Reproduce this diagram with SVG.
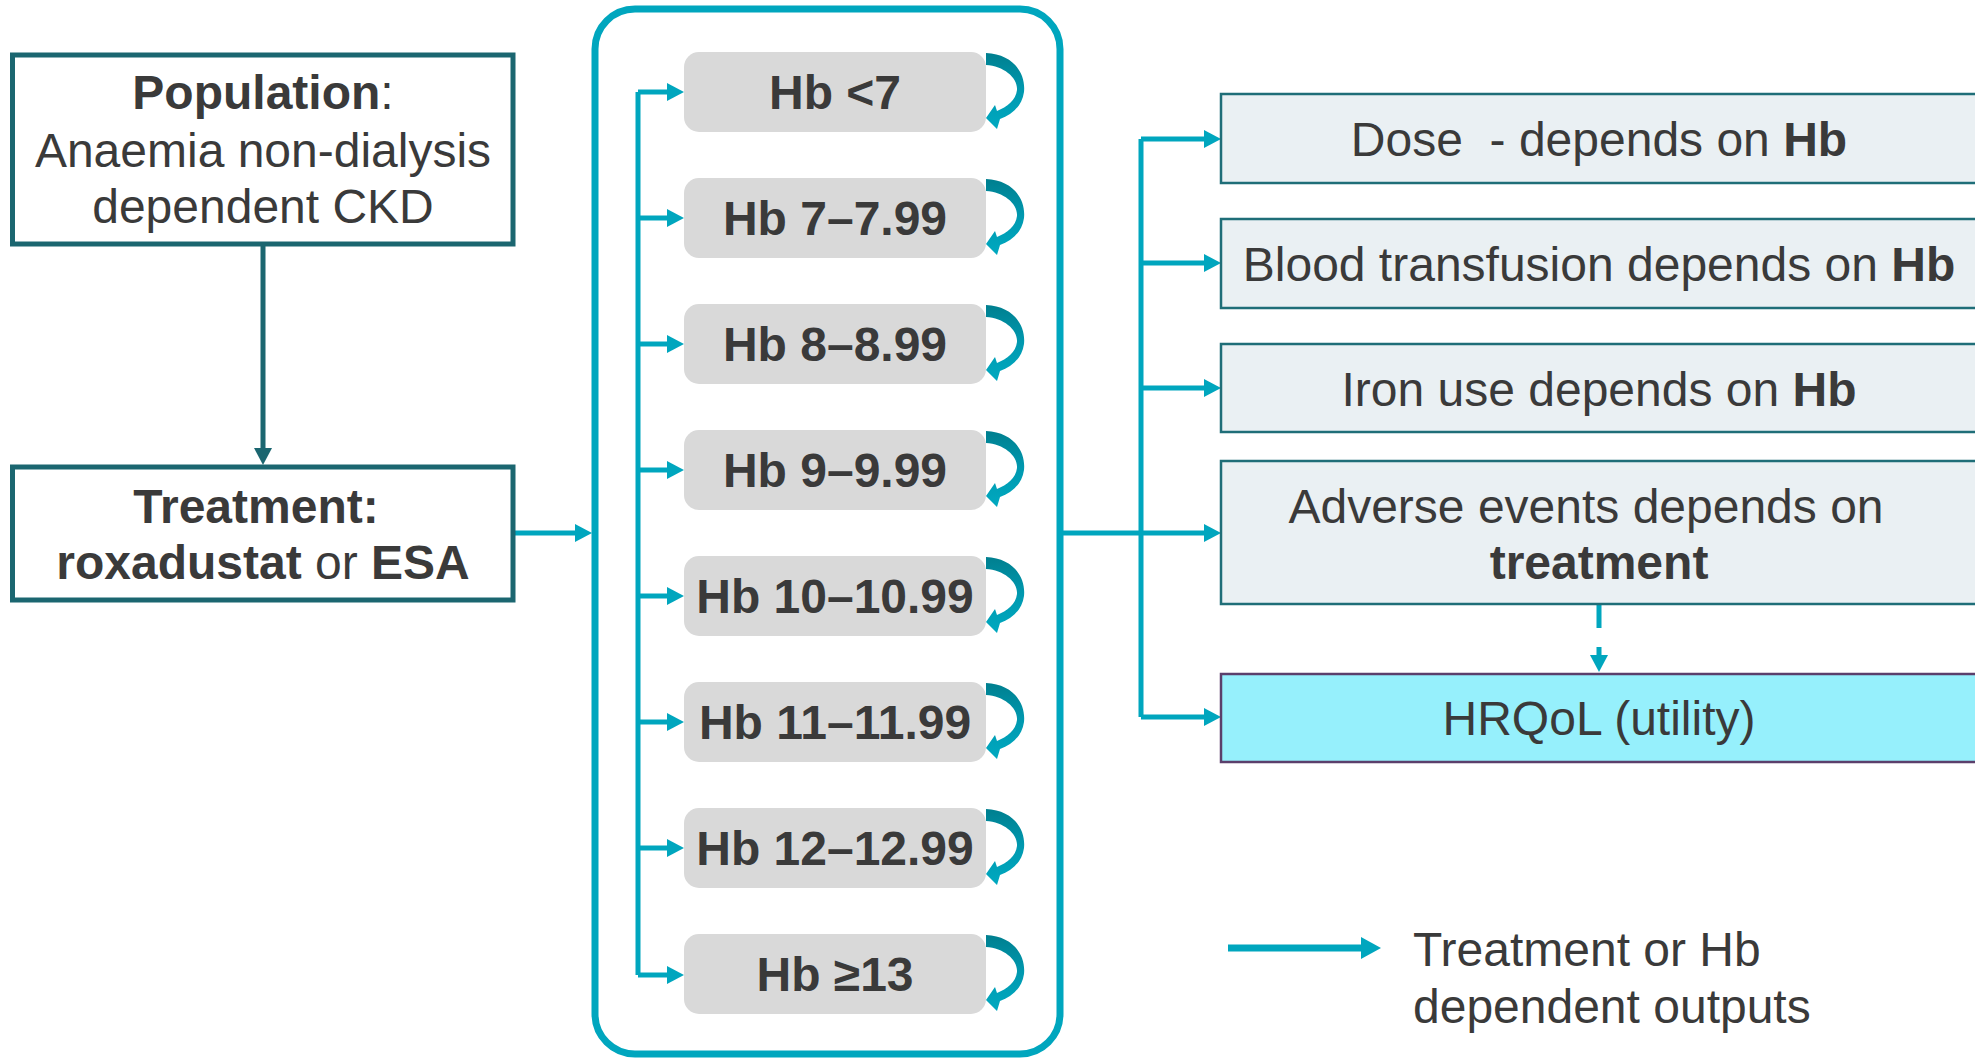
<svg xmlns="http://www.w3.org/2000/svg" width="1975" height="1058" viewBox="0 0 1975 1058">
  <style>
    text { font-family: "Liberation Sans", Arial, sans-serif; font-size: 48px; fill: #3a3a3a; }
    .b { font-weight: bold; }
    .lbox { fill: #ffffff; stroke: #1b6670; stroke-width: 5; }
    .hb { fill: #d9d9d9; }
    .out { fill: #eaf0f3; stroke: #1f6e78; stroke-width: 2.5; }
    .hrq { fill: #96f0fc; stroke: #5b3f6b; stroke-width: 2.5; }
    .tl { fill: none; stroke: #00a6be; stroke-width: 5; stroke-linejoin: round; }
    .dk { fill: none; stroke: #1b6670; stroke-width: 5; }
  </style>
  <defs>
    <marker id="aT" markerUnits="userSpaceOnUse" markerWidth="17" markerHeight="18" viewBox="0 0 17 18" refX="1" refY="9" orient="auto">
      <path d="M0,0 L17,9 L0,18 Z" fill="#00a6be"/>
    </marker>
    <marker id="aD" markerUnits="userSpaceOnUse" markerWidth="17" markerHeight="18" viewBox="0 0 17 18" refX="1" refY="9" orient="auto">
      <path d="M0,0 L17,9 L0,18 Z" fill="#1b6670"/>
    </marker>
    <marker id="aL" markerUnits="userSpaceOnUse" markerWidth="20" markerHeight="22" viewBox="0 0 20 22" refX="1" refY="11" orient="auto">
      <path d="M0,0 L20,11 L0,22 Z" fill="#00a6be"/>
    </marker>
    <linearGradient id="lg" x1="0" y1="0" x2="0" y2="1">
      <stop offset="0" stop-color="#007f8f"/>
      <stop offset="0.5" stop-color="#0099b0"/>
      <stop offset="1" stop-color="#00a9c0"/>
    </linearGradient>
    <path id="loop" fill="url(#lg)" d="M986 53 C1012 54, 1026 72, 1024 92 C1022 106, 1012 115, 1000 119 L997 129 L986 118 L995 105 L997 111 C1007 107, 1016 100, 1017 90 C1018 78, 1004 66, 986 65 Z"/>
  </defs>
  <rect width="1975" height="1058" fill="#ffffff"/>

  <g id="connectors">
    <path class="dk" d="M263 244 V449" marker-end="url(#aD)"/>
    <path class="tl" d="M513 533 H576" marker-end="url(#aT)"/>
    <path class="tl" d="M638 92 V975"/>
    <path class="tl" d="M638 92 H668" marker-end="url(#aT)"/>
    <path class="tl" d="M638 218 H668" marker-end="url(#aT)"/>
    <path class="tl" d="M638 344 H668" marker-end="url(#aT)"/>
    <path class="tl" d="M638 470 H668" marker-end="url(#aT)"/>
    <path class="tl" d="M638 596 H668" marker-end="url(#aT)"/>
    <path class="tl" d="M638 722 H668" marker-end="url(#aT)"/>
    <path class="tl" d="M638 848 H668" marker-end="url(#aT)"/>
    <path class="tl" d="M638 975 H668" marker-end="url(#aT)"/>
    <use href="#loop"/>
    <use href="#loop" transform="translate(0,126)"/>
    <use href="#loop" transform="translate(0,252)"/>
    <use href="#loop" transform="translate(0,378)"/>
    <use href="#loop" transform="translate(0,504)"/>
    <use href="#loop" transform="translate(0,630)"/>
    <use href="#loop" transform="translate(0,756)"/>
    <use href="#loop" transform="translate(0,882)"/>
    <path class="tl" d="M1141 139 V717"/>
    <path class="tl" d="M1141 139 H1205" marker-end="url(#aT)"/>
    <path class="tl" d="M1141 263 H1205" marker-end="url(#aT)"/>
    <path class="tl" d="M1141 388 H1205" marker-end="url(#aT)"/>
    <path class="tl" d="M1062 533 H1205" marker-end="url(#aT)"/>
    <path class="tl" d="M1141 717 H1205" marker-end="url(#aT)"/>
    <path class="tl" d="M1599 605 V656" stroke-dasharray="23 19" marker-end="url(#aT)"/>
  </g>

  <g id="population">
    <rect class="lbox" x="12.5" y="55" width="500.5" height="189"/>
    <text x="263" y="109" text-anchor="middle"><tspan class="b">Population</tspan>:</text>
    <text x="263" y="167" text-anchor="middle">Anaemia non-dialysis</text>
    <text x="263" y="223" text-anchor="middle">dependent CKD</text>
  </g>
  <g id="treatment">
    <rect class="lbox" x="12.5" y="467" width="500.5" height="133"/>
    <text x="256" y="523" text-anchor="middle" class="b">Treatment:</text>
    <text x="263" y="579" text-anchor="middle"><tspan class="b">roxadustat</tspan> or <tspan class="b">ESA</tspan></text>
  </g>

  <g id="hb-states">
    <rect x="595" y="9" width="465" height="1045" rx="40" fill="none" stroke="#00a6be" stroke-width="7"/>
  </g>
  <g id="hb1"><rect class="hb" x="684" y="52" width="302" height="80" rx="15"/><text class="b" x="835" y="109" text-anchor="middle">Hb &lt;7</text></g>
  <g id="hb2"><rect class="hb" x="684" y="178" width="302" height="80" rx="15"/><text class="b" x="835" y="235" text-anchor="middle">Hb 7–7.99</text></g>
  <g id="hb3"><rect class="hb" x="684" y="304" width="302" height="80" rx="15"/><text class="b" x="835" y="361" text-anchor="middle">Hb 8–8.99</text></g>
  <g id="hb4"><rect class="hb" x="684" y="430" width="302" height="80" rx="15"/><text class="b" x="835" y="487" text-anchor="middle">Hb 9–9.99</text></g>
  <g id="hb5"><rect class="hb" x="684" y="556" width="302" height="80" rx="15"/><text class="b" x="835" y="613" text-anchor="middle">Hb 10–10.99</text></g>
  <g id="hb6"><rect class="hb" x="684" y="682" width="302" height="80" rx="15"/><text class="b" x="835" y="739" text-anchor="middle">Hb 11–11.99</text></g>
  <g id="hb7"><rect class="hb" x="684" y="808" width="302" height="80" rx="15"/><text class="b" x="835" y="865" text-anchor="middle">Hb 12–12.99</text></g>
  <g id="hb8"><rect class="hb" x="684" y="934" width="302" height="80" rx="15"/><text class="b" x="835" y="991" text-anchor="middle">Hb ≥13</text></g>

  <g id="dose">
    <rect class="out" x="1221" y="94" width="770" height="89"/>
    <text x="1599" y="156" text-anchor="middle" xml:space="preserve">Dose  - depends on <tspan class="b">Hb</tspan></text>
  </g>
  <g id="transfusion">
    <rect class="out" x="1221" y="219" width="770" height="89"/>
    <text x="1599" y="281" text-anchor="middle">Blood transfusion depends on <tspan class="b">Hb</tspan></text>
  </g>
  <g id="iron">
    <rect class="out" x="1221" y="344" width="770" height="88"/>
    <text x="1599" y="406" text-anchor="middle">Iron use depends on <tspan class="b">Hb</tspan></text>
  </g>
  <g id="adverse">
    <rect class="out" x="1221" y="461" width="770" height="143"/>
    <text x="1586" y="523" text-anchor="middle">Adverse events depends on</text>
    <text x="1599" y="579" text-anchor="middle" class="b">treatment</text>
  </g>
  <g id="hrqol">
    <rect class="hrq" x="1221" y="674" width="770" height="88"/>
    <text x="1599" y="735" text-anchor="middle">HRQoL (utility)</text>
  </g>

  <g id="legend">
    <path d="M1228 948 H1362" fill="none" stroke="#00a6be" stroke-width="7" marker-end="url(#aL)"/>
    <text x="1413" y="966">Treatment or Hb</text>
    <text x="1413" y="1023">dependent outputs</text>
  </g>
</svg>
